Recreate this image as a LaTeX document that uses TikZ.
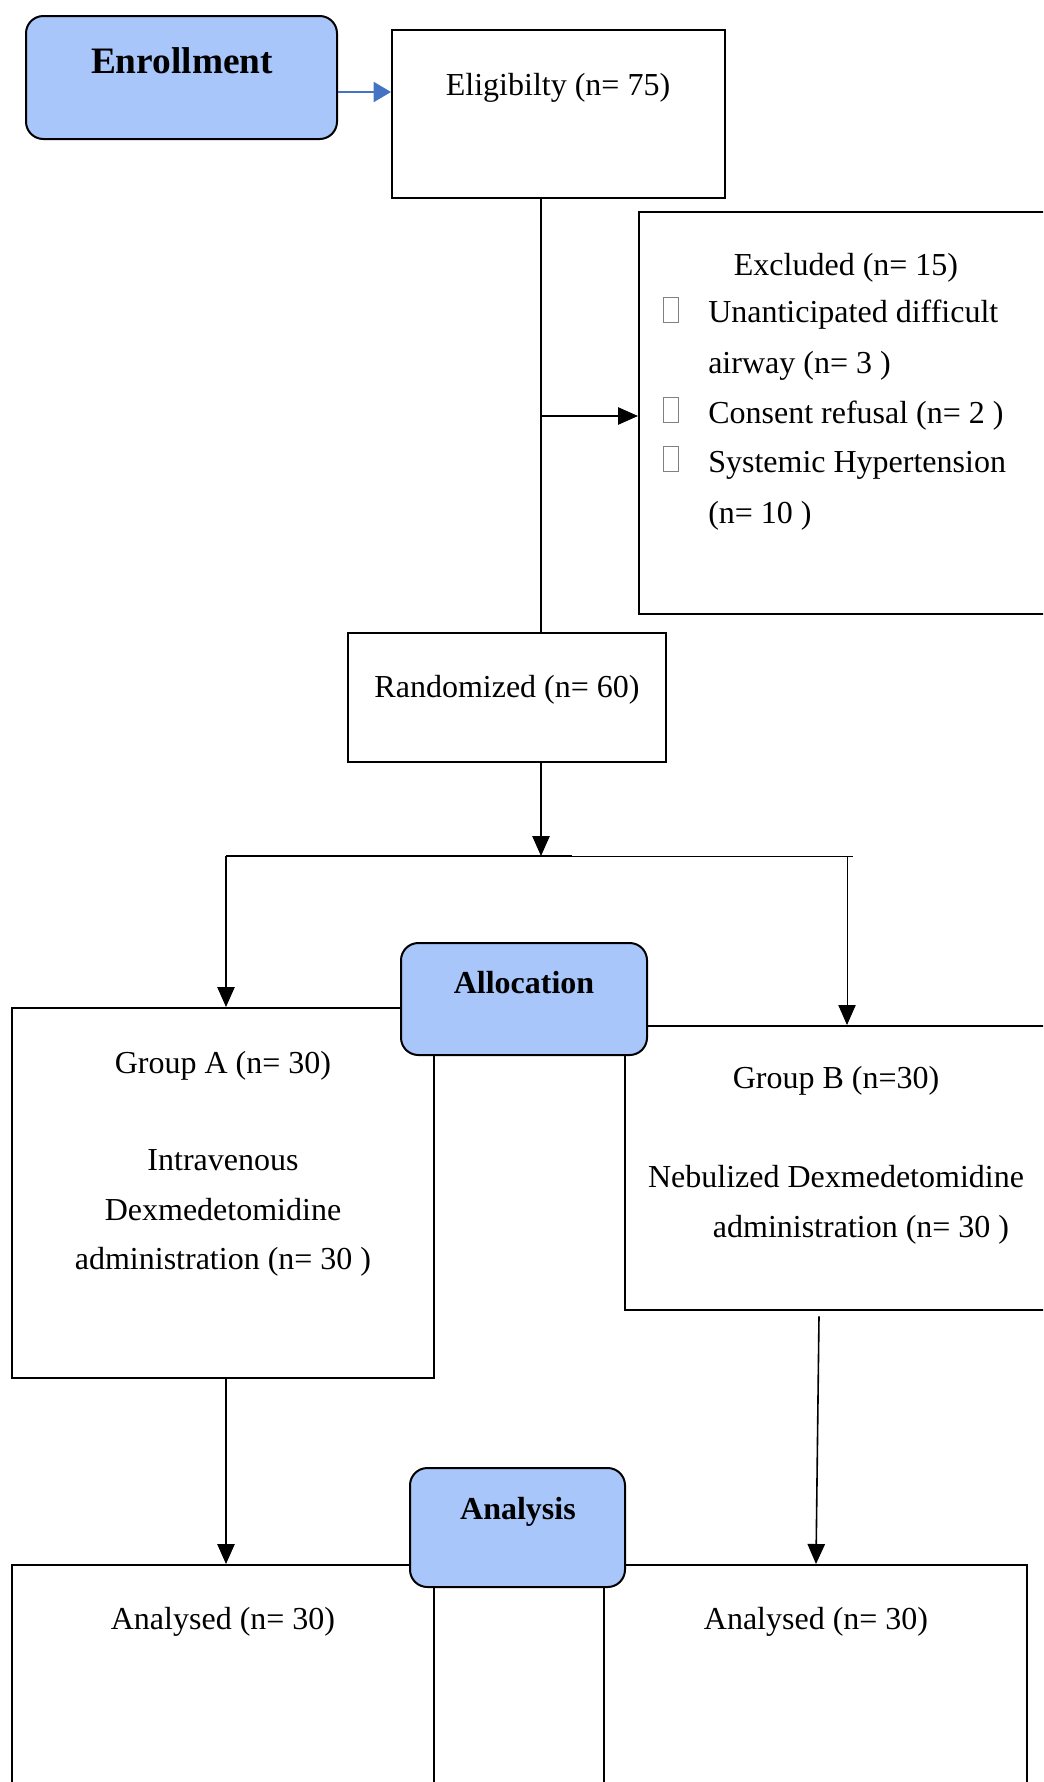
\documentclass[tikz,border=0pt]{standalone}
\usepackage{fontspec}
\setmainfont{Liberation Serif}
\usetikzlibrary{fit,arrows.meta}
\definecolor{boxblue}{RGB}{168,198,250}
\definecolor{arrowblue}{RGB}{68,114,196}
\begin{document}
\begin{tikzpicture}[x=0.75pt,y=-0.75pt,
  plainbox/.style={draw=black,line width=1.5pt,fill=white,inner sep=0pt},
  stagebox/.style={draw=black,line width=1.5pt,fill=boxblue,rounded corners=13pt,inner sep=0pt},
  txt/.style={font=\fontsize{24}{30}\selectfont,inner sep=0pt,anchor=base},
  txtl/.style={txt,anchor=base west},
  stagetxt/.style={font=\fontsize{24}{30}\selectfont\bfseries,inner sep=0pt,anchor=base},
  conn/.style={line width=1.2pt,draw=black},
  thinconn/.style={line width=0.7pt,draw=black},
  tip/.style={-{Triangle[length=15pt,width=13pt]}},
  arr/.style={conn,tip},
  bluearr/.style={line width=1.4pt,draw=arrowblue,-{Triangle[length=13pt,width=15pt]}},
  bulletbox/.style={draw=gray,line width=0.5pt}
]
\useasboundingbox (0,0) rectangle (1043,1782);
\clip (0,0) rectangle (1043,1782);
\fill[white] (0,0) rectangle (1043,1782);

% plain boxes
\node[plainbox,fit={(392,30) (725,198)}] (elig) {};
\node[plainbox,fit={(639,212) (1100,614)}] (excl) {};
\node[plainbox,fit={(348,633) (666,762)}] (rand) {};
\node[plainbox,fit={(12,1008) (434,1378)}] (grpA) {};
\node[plainbox,fit={(625,1026) (1100,1310)}] (grpB) {};
\node[plainbox,fit={(12,1565) (434,1850)}] (anaL) {};
\node[plainbox,fit={(604,1565) (1027,1850)}] (anaR) {};

% stage boxes
\node[stagebox,fit={(26,16) (337,139)}] (enr) {};
\node[stagebox,fit={(401,943) (647,1055)}] (alloc) {};
\node[stagebox,fit={(410,1468) (625,1587)}] (anal) {};

% texts
\node[stagetxt,font=\fontsize{28}{34}\selectfont\bfseries] (enrtxt) at (182,73) {Enrollment};
\node[stagetxt] (alloctxt) at (524,993) {Allocation};
\node[stagetxt] (analtxt) at (518,1519) {Analysis};

\node[txt] (eligtxt) at (558,95) {Eligibilty (n= 75)};
\node[txt] (excltitle) at (846,275) {Excluded (n= 15)};
\node[txtl] (ex1) at (708,322) {Unanticipated difficult};
\node[txtl] (ex2) at (708,373) {airway (n= 3 )};
\node[txtl] (ex3) at (708,423) {Consent refusal (n= 2 )};
\node[txtl] (ex4) at (708,472) {Systemic Hypertension};
\node[txtl] (ex5) at (708,523) {(n= 10 )};
\draw[bulletbox] (663,297) rectangle (678,322);
\draw[bulletbox] (663,397) rectangle (678,422);
\draw[bulletbox] (663,446) rectangle (678,471);

\node[txt] (randtxt) at (507,697) {Randomized (n= 60)};
\node[txt] (ga1) at (223,1073) {Group A (n= 30)};
\node[txt] (ga2) at (223,1170) {Intravenous};
\node[txt] (ga3) at (223,1220) {Dexmedetomidine};
\node[txt] (ga4) at (223,1269) {administration (n= 30 )};
\node[txt] (gb1) at (836,1088) {Group B (n=30)};
\node[txt] (gb2) at (836,1187) {Nebulized Dexmedetomidine};
\node[txt] (gb3) at (861,1237) {administration (n= 30 )};
\node[txt] (analtxtL) at (223,1629) {Analysed (n= 30)};
\node[txt] (analtxtR) at (816,1629) {Analysed (n= 30)};

% connectors
\coordinate (branch) at (541,416);
\coordinate (split) at (541,856);
\coordinate (splitL) at (226,856);
\coordinate (splitM) at (572,856);
\coordinate (splitR) at (847,856);
\coordinate (splitEnd) at (853,856);

\draw[bluearr] (enr.east |- 0,92) -- (elig.west |- 0,92);
\draw[conn] (elig.south -| branch) -- (rand.north -| branch);
\draw[arr] (branch) -- (excl.west |- branch);
\draw[arr] (rand.south -| split) -- (split);
\draw[line width=1.8pt] (splitL) -- (splitM);
\draw[thinconn] (splitM) -- (splitEnd);
\draw[arr] (splitL) -- (grpA.north -| splitL);
\draw[thinconn,tip] (splitR) -- (grpB.north -| splitR);
\draw[arr] (grpA.south -| splitL) -- (anaL.north -| splitL);
\draw[arr] ([yshift=-4pt]grpB.south -| 819,0) -- (anaR.north -| 816,0);
\end{tikzpicture}
\end{document}
